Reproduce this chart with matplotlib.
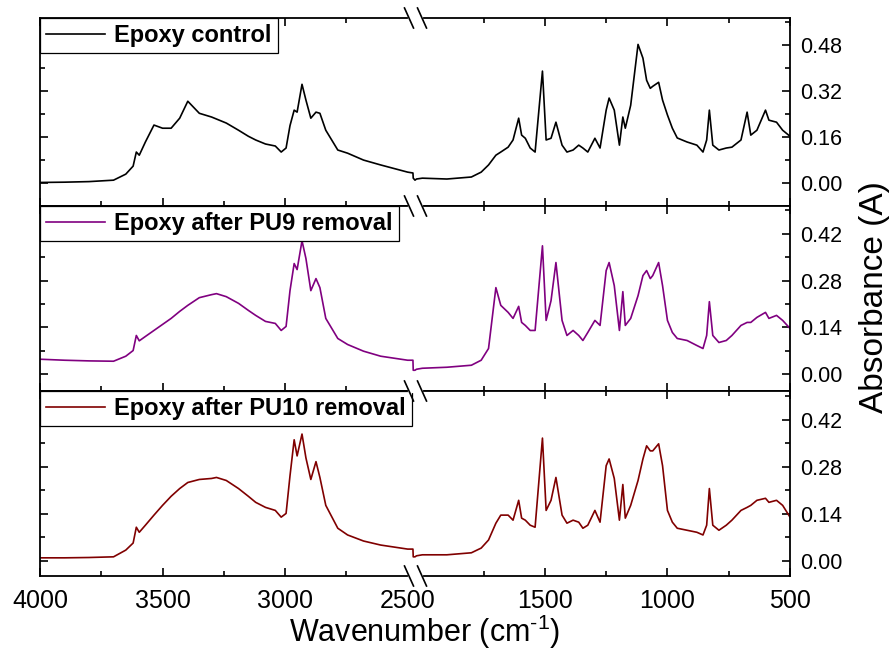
import numpy as np
import matplotlib
matplotlib.use("Agg")
import matplotlib.pyplot as plt
from matplotlib.lines import Line2D
from matplotlib.ticker import FixedLocator, MultipleLocator, FormatStrFormatter

plt.rcParams['font.family'] = ['Liberation Sans', 'DejaVu Sans']
plt.rcParams['axes.unicode_minus'] = False

# ---------------- data ----------------
wavenumber = [4000, 3900, 3800, 3700, 3650, 3620, 3607, 3595, 3570, 3535, 3500, 3465, 3430,
              3397, 3350, 3300, 3280, 3240, 3190, 3150, 3120, 3080, 3040, 3016, 2996, 2980,
              2963, 2951, 2931, 2915, 2895, 2874, 2858, 2834, 2785, 2745, 2680, 2610, 2500,
              2320, 2310, 2250, 2200,
              2000, 1900, 1800, 1760, 1730, 1700, 1680, 1650, 1630, 1607, 1595, 1580, 1560,
              1540, 1510, 1495, 1475, 1455, 1430, 1410, 1385, 1362, 1345, 1325, 1296, 1275,
              1250, 1238, 1217, 1196, 1182, 1172, 1150, 1120, 1100, 1085, 1070, 1060, 1036,
              1020, 1000, 980, 960, 920, 880, 855, 840, 829, 815, 790, 760, 737, 700, 675,
              660, 635, 600, 586, 555, 530, 500]

epoxy_control = [0.002, 0.003, 0.005, 0.010, 0.031, 0.059, 0.108, 0.097, 0.143, 0.202, 0.191, 0.191, 0.226,
                 0.285, 0.243, 0.230, 0.223, 0.209, 0.184, 0.163, 0.150, 0.136, 0.129, 0.108, 0.122, 0.200,
                 0.254, 0.247, 0.344, 0.289, 0.226, 0.247, 0.243, 0.184, 0.115, 0.104, 0.080, 0.063, 0.038,
                 0.035, 0.017, 0.010, 0.014,
                 0.017, 0.014, 0.021, 0.038, 0.063, 0.097, 0.108, 0.125, 0.150, 0.226, 0.167, 0.156, 0.122,
                 0.108, 0.390, 0.150, 0.156, 0.212, 0.132, 0.108, 0.115, 0.132, 0.122, 0.108, 0.156, 0.122,
                 0.254, 0.296, 0.254, 0.132, 0.230, 0.191, 0.271, 0.483, 0.435, 0.358, 0.330, 0.337, 0.351,
                 0.289, 0.237, 0.191, 0.157, 0.143, 0.132, 0.108, 0.150, 0.254, 0.132, 0.115, 0.122, 0.125, 0.150, 0.247,
                 0.167, 0.184, 0.254, 0.219, 0.212, 0.184, 0.163]

epoxy_pu9 = [0.045, 0.042, 0.040, 0.039, 0.054, 0.071, 0.116, 0.100, 0.113, 0.131, 0.149, 0.167, 0.188,
             0.206, 0.229, 0.238, 0.241, 0.232, 0.212, 0.191, 0.176, 0.158, 0.152, 0.131, 0.143, 0.250,
             0.331, 0.313, 0.399, 0.346, 0.250, 0.286, 0.259, 0.167, 0.107, 0.089, 0.069, 0.054, 0.042,
             0.042, 0.012, 0.012, 0.015,
             0.018, 0.021, 0.027, 0.042, 0.077, 0.259, 0.206, 0.185, 0.167, 0.203, 0.155, 0.146, 0.131,
             0.131, 0.384, 0.161, 0.220, 0.334, 0.161, 0.116, 0.131, 0.116, 0.101, 0.125, 0.161, 0.146,
             0.310, 0.334, 0.265, 0.131, 0.247, 0.146, 0.167, 0.235, 0.295, 0.310, 0.286, 0.295, 0.334,
             0.265, 0.161, 0.125, 0.107, 0.101, 0.086, 0.077, 0.116, 0.217, 0.116, 0.095, 0.101, 0.116, 0.146, 0.155,
             0.155, 0.170, 0.185, 0.167, 0.176, 0.161, 0.137]

epoxy_pu10 = [0.009, 0.009, 0.010, 0.012, 0.032, 0.053, 0.100, 0.085, 0.106, 0.136, 0.165, 0.192, 0.215,
              0.233, 0.242, 0.245, 0.248, 0.239, 0.215, 0.192, 0.174, 0.159, 0.150, 0.130, 0.141, 0.253,
              0.360, 0.312, 0.377, 0.306, 0.242, 0.295, 0.248, 0.165, 0.097, 0.077, 0.059, 0.047, 0.035,
              0.035, 0.012, 0.012, 0.015,
              0.018, 0.018, 0.024, 0.038, 0.062, 0.112, 0.136, 0.136, 0.121, 0.180, 0.127, 0.121, 0.106,
              0.100, 0.365, 0.150, 0.180, 0.248, 0.136, 0.112, 0.121, 0.115, 0.097, 0.106, 0.150, 0.115,
              0.283, 0.303, 0.245, 0.121, 0.227, 0.127, 0.165, 0.239, 0.303, 0.342, 0.327, 0.327, 0.348,
              0.283, 0.150, 0.115, 0.097, 0.091, 0.085, 0.077, 0.106, 0.215, 0.106, 0.091, 0.106, 0.121, 0.150, 0.159,
              0.165, 0.180, 0.186, 0.174, 0.180, 0.165, 0.130]

series = [epoxy_control, epoxy_pu9, epoxy_pu10]
labels = ["Epoxy control", "Epoxy after PU9 removal", "Epoxy after PU10 removal"]
colors = ["#000000", "#800080", "#800000"]
ylims = [(-0.08, 0.575), (-0.05, 0.503), (-0.045, 0.505)]
ystep = [0.16, 0.14, 0.14]

x_major = [4000, 3500, 3000, 2500, 1500, 1000, 500]
x_minor = [3750, 3250, 2750, 1750, 1250, 750]

# ---------------- broken x scale (4000 on the left) ----------------
G = 0.12
def fwd(w):
    w = np.asarray(w, dtype=float)
    return np.where(w >= 2500, 4000 - w,
                    np.where(w >= 2000, 1500 + (2500 - w) * G, 1500 + 500 * G + (2000 - w)))

def inv(p):
    p = np.asarray(p, dtype=float)
    return np.where(p <= 1500, 4000 - p,
                    np.where(p <= 1500 + 500 * G, 2500 - (p - 1500) / G, 2000 - (p - 1500 - 500 * G)))

W, H = 893, 658
fig = plt.figure(figsize=(W / 100, H / 100), dpi=100)
L, R = 40, 790
tops = [18, 206, 391]
bots = [206, 391, 576]

axes = []
for i in range(3):
    ax = fig.add_axes([L / W, 1 - bots[i] / H, (R - L) / W, (bots[i] - tops[i]) / H])
    ax.set_xscale('function', functions=(fwd, inv))
    ax.plot(wavenumber, series[i], color=colors[i], lw=1.2, label=labels[i])
    ax.set_xlim(500, 4000)
    ax.set_ylim(*ylims[i])
    ax.xaxis.set_major_locator(FixedLocator(x_major))
    ax.xaxis.set_minor_locator(FixedLocator(x_minor))
    ax.yaxis.set_major_locator(MultipleLocator(ystep[i]))
    ax.yaxis.set_minor_locator(MultipleLocator(ystep[i] / 2))
    ax.yaxis.set_major_formatter(FormatStrFormatter('%.2f'))
    ax.tick_params(axis='both', which='both', direction='in', top=True, bottom=True,
                   left=True, right=True, width=1.2)
    ax.tick_params(axis='both', which='major', length=6)
    ax.tick_params(axis='both', which='minor', length=3.5)
    ax.tick_params(axis='y', labelleft=False, labelright=True, labelsize=15.5, pad=7)
    ax.tick_params(axis='x', labelbottom=(i == 2), labelsize=18, pad=9)
    for s in ax.spines.values():
        s.set_linewidth(1.3)
    leg = ax.legend(loc='upper left', bbox_to_anchor=(0, 1), borderaxespad=0,
                    frameon=True, fancybox=False, edgecolor='black', framealpha=1,
                    handlelength=2.5, handletextpad=0.4, borderpad=0.25,
                    prop={'weight': 'bold', 'size': 17})
    leg.get_frame().set_linewidth(0.9)
    axes.append(ax)

# hide tick lines at 2500 (inside the axis break)
for ax in axes:
    ticks = ax.xaxis.get_major_ticks()
    ticks[3].tick1line.set_visible(False)
    ticks[3].tick2line.set_visible(False)

axes[2].set_xlabel('Wavenumber (cm$^{\\mathregular{\u2010}\\mathregular{1}}$)', fontsize=22, labelpad=3)
axes[2].xaxis.set_label_coords(0.513, -0.2)
axes[2].xaxis.label.set_va('top')
fig.text(875 / W, 0.5 * (1 - 18 / H + 1 - 576 / H), 'Absorbance (A)', rotation=90,
         fontsize=24, ha='center', va='center')

# axis break marks
ys = sorted(set(tops + bots))
for y in ys:
    fy = 1 - y / H
    fig.add_artist(Line2D([410 / W, 421 / W], [fy, fy], color='white', lw=3,
                          transform=fig.transFigure, zorder=10))
    for xc in (409, 422):
        fig.add_artist(Line2D([(xc - 4.5) / W, (xc + 4.5) / W], [fy + 10 / H, fy - 10 / H],
                              color='black', lw=1.2, transform=fig.transFigure, zorder=11))

fig.savefig('out.png', dpi=100)
